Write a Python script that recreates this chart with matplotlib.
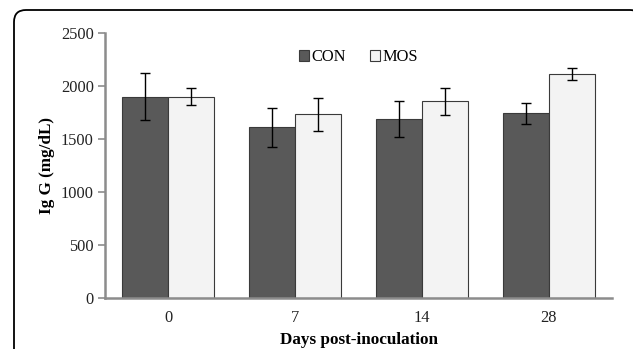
import matplotlib.pyplot as plt
import numpy as np
from matplotlib.patches import PathPatch
from matplotlib.path import Path

days = ["0", "7", "14", "28"]
con_mean = [1900, 1610, 1690, 1742]
con_err = [225, 186, 171, 96]
mos_mean = [1900, 1733, 1856, 2110]
mos_err = [82, 156, 126, 57]

plt.rcParams["font.family"] = ["Liberation Serif", "DejaVu Serif"]

fig = plt.figure(figsize=(6.33, 3.49), dpi=100)
ax = fig.add_axes([105 / 633, 51 / 349, 507 / 633, 265 / 349])

x = np.arange(len(days))
w = 0.363
err_kw = dict(ecolor="black", elinewidth=1.0, capsize=3.5, capthick=1.0)
ax.bar(x - w / 2, con_mean, w, yerr=con_err, color="#595959", edgecolor="#3a3a3a",
       linewidth=0.8, label="CON", error_kw=err_kw)
ax.bar(x + w / 2, mos_mean, w, yerr=mos_err, color="#f3f3f3", edgecolor="#3a3a3a",
       linewidth=0.8, label="MOS", error_kw=err_kw)

ax.set_xlim(-0.5, len(days) - 0.5)
ax.set_ylim(0, 2500)
ax.set_yticks(range(0, 2501, 500))
ax.set_xticks(x)
ax.set_xticklabels(days)

for side in ("top", "right"):
    ax.spines[side].set_visible(False)
for side in ("left", "bottom"):
    ax.spines[side].set_color("#8c8c8c")
    ax.spines[side].set_linewidth(1.8)
ax.tick_params(axis="y", colors="#8c8c8c", labelcolor="#222222", length=5, width=1.2,
               labelsize=11.8, pad=3)
ax.tick_params(axis="x", length=0, labelcolor="#222222", labelsize=11.8, pad=9)

ax.set_ylabel("Ig G (mg/dL)", fontsize=12.3, fontweight="bold")
ax.yaxis.set_label_coords(-0.099, 0.5)
ax.set_xlabel("Days post-inoculation", fontsize=12.3, fontweight="bold")
ax.xaxis.set_label_coords(0.5, -0.127)

ax.legend(loc="upper center", bbox_to_anchor=(0.5, 0.995), ncol=2, frameon=False,
          fontsize=11.8, handlelength=0.6, handleheight=0.6, handletextpad=0.15,
          columnspacing=1.5)

# rounded frame (inches), open at the bottom and cut off on the right
left, top, right, r = 0.14, 3.39, 6.40, 0.1
verts = [(left, -0.5), (left, top - 0.12), (left, top), (left + 0.12, top),
         (right - r, top), (right, top), (right, top - r), (right, -0.5)]
codes = [Path.MOVETO, Path.LINETO, Path.CURVE3, Path.CURVE3,
         Path.LINETO, Path.CURVE3, Path.CURVE3, Path.LINETO]
frame = PathPatch(Path(verts, codes), transform=fig.dpi_scale_trans,
                  facecolor="none", edgecolor="black", linewidth=1.3, clip_on=False)
fig.patches.append(frame)

fig.savefig("out.png", dpi=100)
